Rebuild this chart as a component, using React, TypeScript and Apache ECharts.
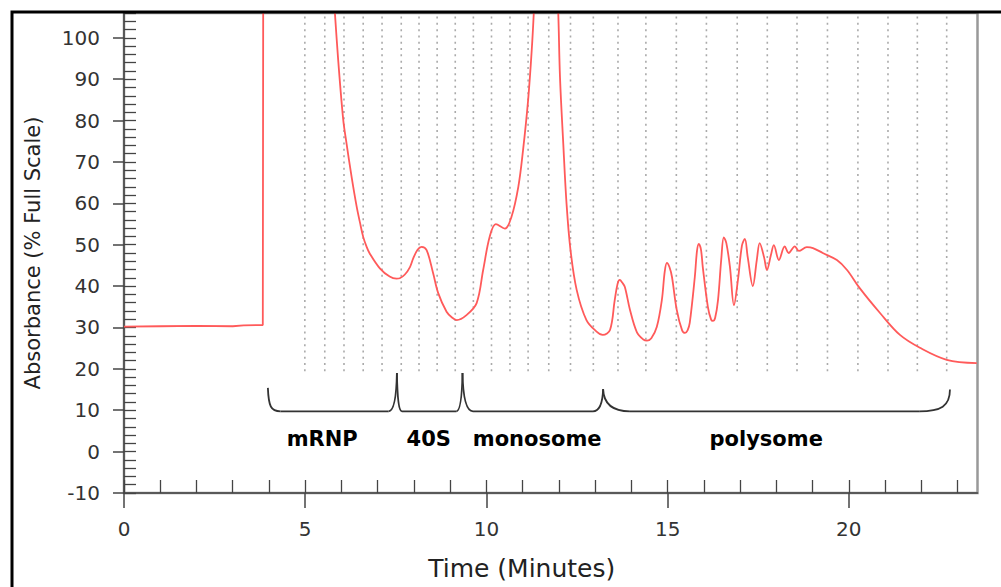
import React, { useEffect, useRef } from "react";
import * as echarts from "echarts";

// ---- axis ticks / labels ----
const xTickLabels = [0, 5, 10, 15, 20];
const xMinorTicks = [0, 1, 2, 3, 4, 5, 6, 7, 8, 9, 10, 11, 12, 13, 14, 15, 16, 17, 18, 19, 20, 21, 22, 23];
const yTickLabels = [-10, 0, 10, 20, 30, 40, 50, 60, 70, 80, 90, 100];
const X_MIN = 0;
const X_MAX = 23.55;
const Y_MIN = -10;
const Y_MAX = 106;

// ---- absorbance trace: baseline before injection ----
const baselineTime = [0, 1.0, 2.0, 3.0, 3.3, 3.83, 3.84, 3.845];
const baselineAbs = [30.2, 30.3, 30.4, 30.3, 30.5, 30.6, 30.6, 140];

// ---- absorbance trace: gradient profile ----
const profileTime = [
  5.70, 5.82, 5.91, 6.05, 6.14, 6.28, 6.42, 6.51, 6.60, 6.69, 6.78, 7.06, 7.33, 7.52, 7.61, 7.75, 7.89, 7.98,
  8.10, 8.21, 8.35, 8.53, 8.67, 8.90, 9.05, 9.18, 9.45, 9.73, 9.91, 10.09, 10.26, 10.51, 10.69, 10.88, 11.01,
  11.15, 11.25, 11.31, 11.40, 11.64, 11.90, 11.98, 12.03, 12.12, 12.21, 12.32, 12.49, 12.76, 13.04,
  13.21, 13.41, 13.54, 13.62, 13.68, 13.75, 13.82, 13.96, 14.15, 14.33, 14.43, 14.55, 14.70, 14.84, 14.92,
  14.98, 15.05, 15.12, 15.25, 15.40, 15.48, 15.55, 15.61, 15.75, 15.81, 15.86, 15.92, 15.97, 16.11, 16.20,
  16.25, 16.31, 16.39, 16.48, 16.55, 16.62, 16.72, 16.83, 16.94, 17.05, 17.13, 17.21, 17.35,
  17.46, 17.54, 17.66, 17.74, 17.85, 17.93, 18.07, 18.23, 18.34, 18.51, 18.62, 18.84, 19.01, 19.28,
  19.67, 19.95, 20.30, 20.86, 21.41, 21.96, 22.70, 23.53,
];
const profileAbs = [
  121, 105.9, 94.6, 80.1, 74.5, 66.4, 59.2, 55.4, 51.9, 49.6, 47.9, 44.3, 42.3, 41.8, 41.9, 42.8, 44.6, 46.7,
  48.8, 49.5, 48.7, 43.1, 38.3, 33.8, 32.4, 31.8, 33.0, 35.9, 43.9, 51.9, 55.0, 53.9, 56.7, 64.0, 72.8,
  84.9, 97.0, 106.6, 125, 140, 122, 106.6, 90.5, 74.5, 60.0, 48.7, 39.1, 31.8, 29.0,
  28.2, 29.4, 36.6, 40.6, 41.5, 40.8, 39.8, 34.3, 28.9, 27.1, 26.8, 27.4, 30.1, 36.6, 43.5,
  45.6, 44.6, 42.2, 34.3, 29.3, 28.7, 29.3, 31.1, 42.2, 48.5, 50.2, 48.8, 44.6, 35.0, 31.9,
  31.6, 32.3, 36.6, 46.5, 51.8, 50.4, 44.6, 35.4, 41.5, 49.8, 51.4, 47.0, 40.0,
  46.3, 50.4, 47.0, 43.9, 47.5, 49.9, 46.3, 49.6, 48.0, 49.6, 48.5, 49.4, 49.2, 48.0,
  46.3, 43.9, 39.5, 33.5, 28.2, 25.1, 22.2, 21.4,
];

// ---- fraction collector marks ----
const fractionTimes = [
  4.99, 5.54, 6.07, 6.60, 7.12, 7.65, 8.14, 8.64, 9.14, 9.64, 10.14, 10.65, 11.15, 11.72,
  12.32, 12.95, 13.63, 14.40, 15.24, 16.07, 16.92, 17.75, 18.57, 19.41, 20.25, 21.08, 21.89, 22.70,
];
const fractionLineBottom = 19.4;

// ---- bracket annotations ----
const bracketTimes = [3.97, 7.53, 9.34, 13.22, 22.79];
const bracketTips = [15.4, 19.0, 19.0, 15.1, 15.0];
const cuspLeft = [0, 0.23, 0.17, 0.28, 0.85];
const cuspRight = [0.35, 0.14, 0.29, 0.74, 0];
const bracketBase = 9.75;
const peakLabels = ["mRNP", "40S", "monosome", "polysome"];
const peakLabelTimes = [5.47, 8.41, 11.40, 17.72];
const peakLabelY = 3.1;

const AXIS_FONT = "DejaVu Sans";
const AXIS_COLOR = "#444";
const TRACE_COLOR = "#ff5a5a";

function renderFractions(params: any, api: any) {
  const t = api.value(0);
  const p1 = api.coord([t, fractionLineBottom]);
  const p2 = api.coord([t, Y_MAX]);
  return {
    type: "line",
    shape: { x1: p1[0], y1: p1[1], x2: p2[0], y2: p2[1] },
    style: { stroke: "#aaaaaa", lineWidth: 1.6, lineDash: [2, 4.3] },
    silent: true,
  };
}

function renderBrackets(params: any, api: any) {
  const P = (t: number, v: number) => api.coord([t, v]);
  const base = bracketBase;
  const style = { stroke: "#333333", lineWidth: 1.8, fill: null };
  const children: any[] = [];
  const bez = (a: number[], b: number[], c: number[], d: number[]) => {
    const p0 = P(a[0], a[1]);
    const p1 = P(b[0], b[1]);
    const p2 = P(c[0], c[1]);
    const p3 = P(d[0], d[1]);
    children.push({
      type: "bezierCurve",
      shape: { x1: p0[0], y1: p0[1], cpx1: p1[0], cpy1: p1[1], cpx2: p2[0], cpy2: p2[1], x2: p3[0], y2: p3[1] },
      style,
      silent: true,
    });
  };
  const seg = (t0: number, t1: number) => {
    const a = P(t0, base);
    const b = P(t1, base);
    children.push({ type: "line", shape: { x1: a[0], y1: a[1], x2: b[0], y2: b[1] }, style, silent: true });
  };
  const n = bracketTimes.length;
  const e0 = bracketTimes[0];
  bez([e0, bracketTips[0]], [e0 + 0.02, base + 1.2], [e0 + 0.08, base], [e0 + cuspRight[0], base]);
  let cursor = e0 + cuspRight[0];
  for (let i = 1; i < n - 1; i++) {
    const c = bracketTimes[i];
    const tip = bracketTips[i];
    const wl = cuspLeft[i];
    const wr = cuspRight[i];
    seg(cursor, c - wl);
    bez([c - wl, base], [c - wl * 0.4, base], [c - 0.015, base + (tip - base) * 0.3], [c, tip]);
    bez([c, tip], [c + 0.015, base + (tip - base) * 0.3], [c + wr * 0.4, base], [c + wr, base]);
    cursor = c + wr;
  }
  const eN = bracketTimes[n - 1];
  const wN = cuspLeft[n - 1];
  seg(cursor, eN - wN);
  bez([eN - wN, base], [eN - 0.25, base], [eN, base + 1.2], [eN, bracketTips[n - 1]]);

  peakLabels.forEach((txt, i) => {
    const p = P(peakLabelTimes[i], peakLabelY);
    children.push({
      type: "text",
      x: p[0],
      y: p[1],
      silent: true,
      style: {
        text: txt,
        fill: "#000",
        font: `bold 21px "${AXIS_FONT}"`,
        align: "center",
        verticalAlign: "middle",
        textAlign: "center",
        textVerticalAlign: "middle",
      },
    });
  });
  return { type: "group", children };
}

export default function App() {
  const ref = useRef<HTMLDivElement>(null);
  useEffect(() => {
    const chart = echarts.init(ref.current!, null, { renderer: "svg" });
    const option: any = {
      animation: false,
      backgroundColor: "#ffffff",
      grid: {
        left: 124,
        top: 13,
        width: 853.5,
        height: 480,
        show: true,
        borderColor: "#999",
        borderWidth: 2.5,
        backgroundColor: "transparent",
        containLabel: false,
      },
      xAxis: [
        {
          type: "value",
          position: "bottom",
          min: X_MIN,
          max: X_MAX,
          interval: 5,
          name: "Time (Minutes)",
          nameLocation: "middle",
          nameGap: 63,
          nameTextStyle: {
            fontFamily: AXIS_FONT,
            fontSize: 25,
            color: "#222",
            padding: [0, 58, 0, 0],
          },
          axisLine: { show: true, onZero: false, lineStyle: { color: AXIS_COLOR, width: 1.5 } },
          axisTick: { show: true, inside: false, length: 15, customValues: xTickLabels, lineStyle: { color: AXIS_COLOR, width: 1.5 } },
          axisLabel: { show: true, margin: 26, customValues: xTickLabels, fontFamily: AXIS_FONT, fontSize: 20, color: "#333" },
          splitLine: { show: false },
        },
        {
          type: "value",
          position: "bottom",
          min: X_MIN,
          max: X_MAX,
          interval: 1,
          axisLine: { show: false, onZero: false },
          axisTick: { show: true, inside: true, length: 13, customValues: xMinorTicks, lineStyle: { color: AXIS_COLOR, width: 1.3 } },
          axisLabel: { show: false },
          splitLine: { show: false },
        },
      ],
      yAxis: [
        {
          type: "value",
          position: "left",
          min: Y_MIN,
          max: Y_MAX,
          interval: 10,
          name: "Absorbance (% Full Scale)",
          nameLocation: "middle",
          nameGap: 81,
          nameTextStyle: { fontFamily: AXIS_FONT, fontSize: 21, color: "#222" },
          axisLine: { show: true, onZero: false, lineStyle: { color: AXIS_COLOR, width: 1.5 } },
          axisTick: { show: true, inside: false, length: 11, customValues: yTickLabels, lineStyle: { color: AXIS_COLOR, width: 1.5 } },
          axisLabel: { show: true, margin: 24, customValues: yTickLabels, fontFamily: AXIS_FONT, fontSize: 20, color: "#333" },
          splitLine: { show: false },
        },
        {
          type: "value",
          position: "left",
          min: Y_MIN,
          max: Y_MAX,
          interval: 2,
          axisLine: { show: false, onZero: false },
          axisTick: { show: true, inside: true, length: 12, lineStyle: { color: AXIS_COLOR, width: 1.3 } },
          axisLabel: { show: false },
          splitLine: { show: false },
        },
      ],
      series: [
        {
          type: "custom",
          name: "fractions",
          xAxisIndex: 0,
          yAxisIndex: 0,
          z: 1,
          clip: false,
          silent: true,
          renderItem: renderFractions,
          data: fractionTimes.map((t) => [t, fractionLineBottom]),
        },
        {
          type: "line",
          name: "baseline",
          xAxisIndex: 0,
          yAxisIndex: 0,
          z: 3,
          showSymbol: false,
          symbol: "none",
          clip: true,
          silent: true,
          lineStyle: { color: TRACE_COLOR, width: 1.8 },
          data: baselineTime.map((t, i) => [t, baselineAbs[i]]),
        },
        {
          type: "line",
          name: "profile",
          xAxisIndex: 0,
          yAxisIndex: 0,
          z: 3,
          showSymbol: false,
          symbol: "none",
          smooth: 0.35,
          clip: true,
          silent: true,
          lineStyle: { color: TRACE_COLOR, width: 1.8 },
          data: profileTime.map((t, i) => [t, profileAbs[i]]),
        },
        {
          type: "custom",
          name: "brackets",
          xAxisIndex: 0,
          yAxisIndex: 0,
          z: 4,
          clip: false,
          silent: true,
          renderItem: renderBrackets,
          data: [[bracketTimes[0], bracketBase]],
        },
      ],
      graphic: [
        {
          type: "rect",
          silent: true,
          z: 100,
          shape: { x: 12, y: 12, width: 1200, height: 1200 },
          style: { fill: "none", stroke: "#000", lineWidth: 3 },
        },
      ],
    };
    chart.setOption(option);
    return () => chart.dispose();
  }, []);
  return (
    <div
      ref={ref}
      style={{ position: "fixed", left: 0, top: 0, width: 1001, height: 587, background: "#fff" }}
    />
  );
}
